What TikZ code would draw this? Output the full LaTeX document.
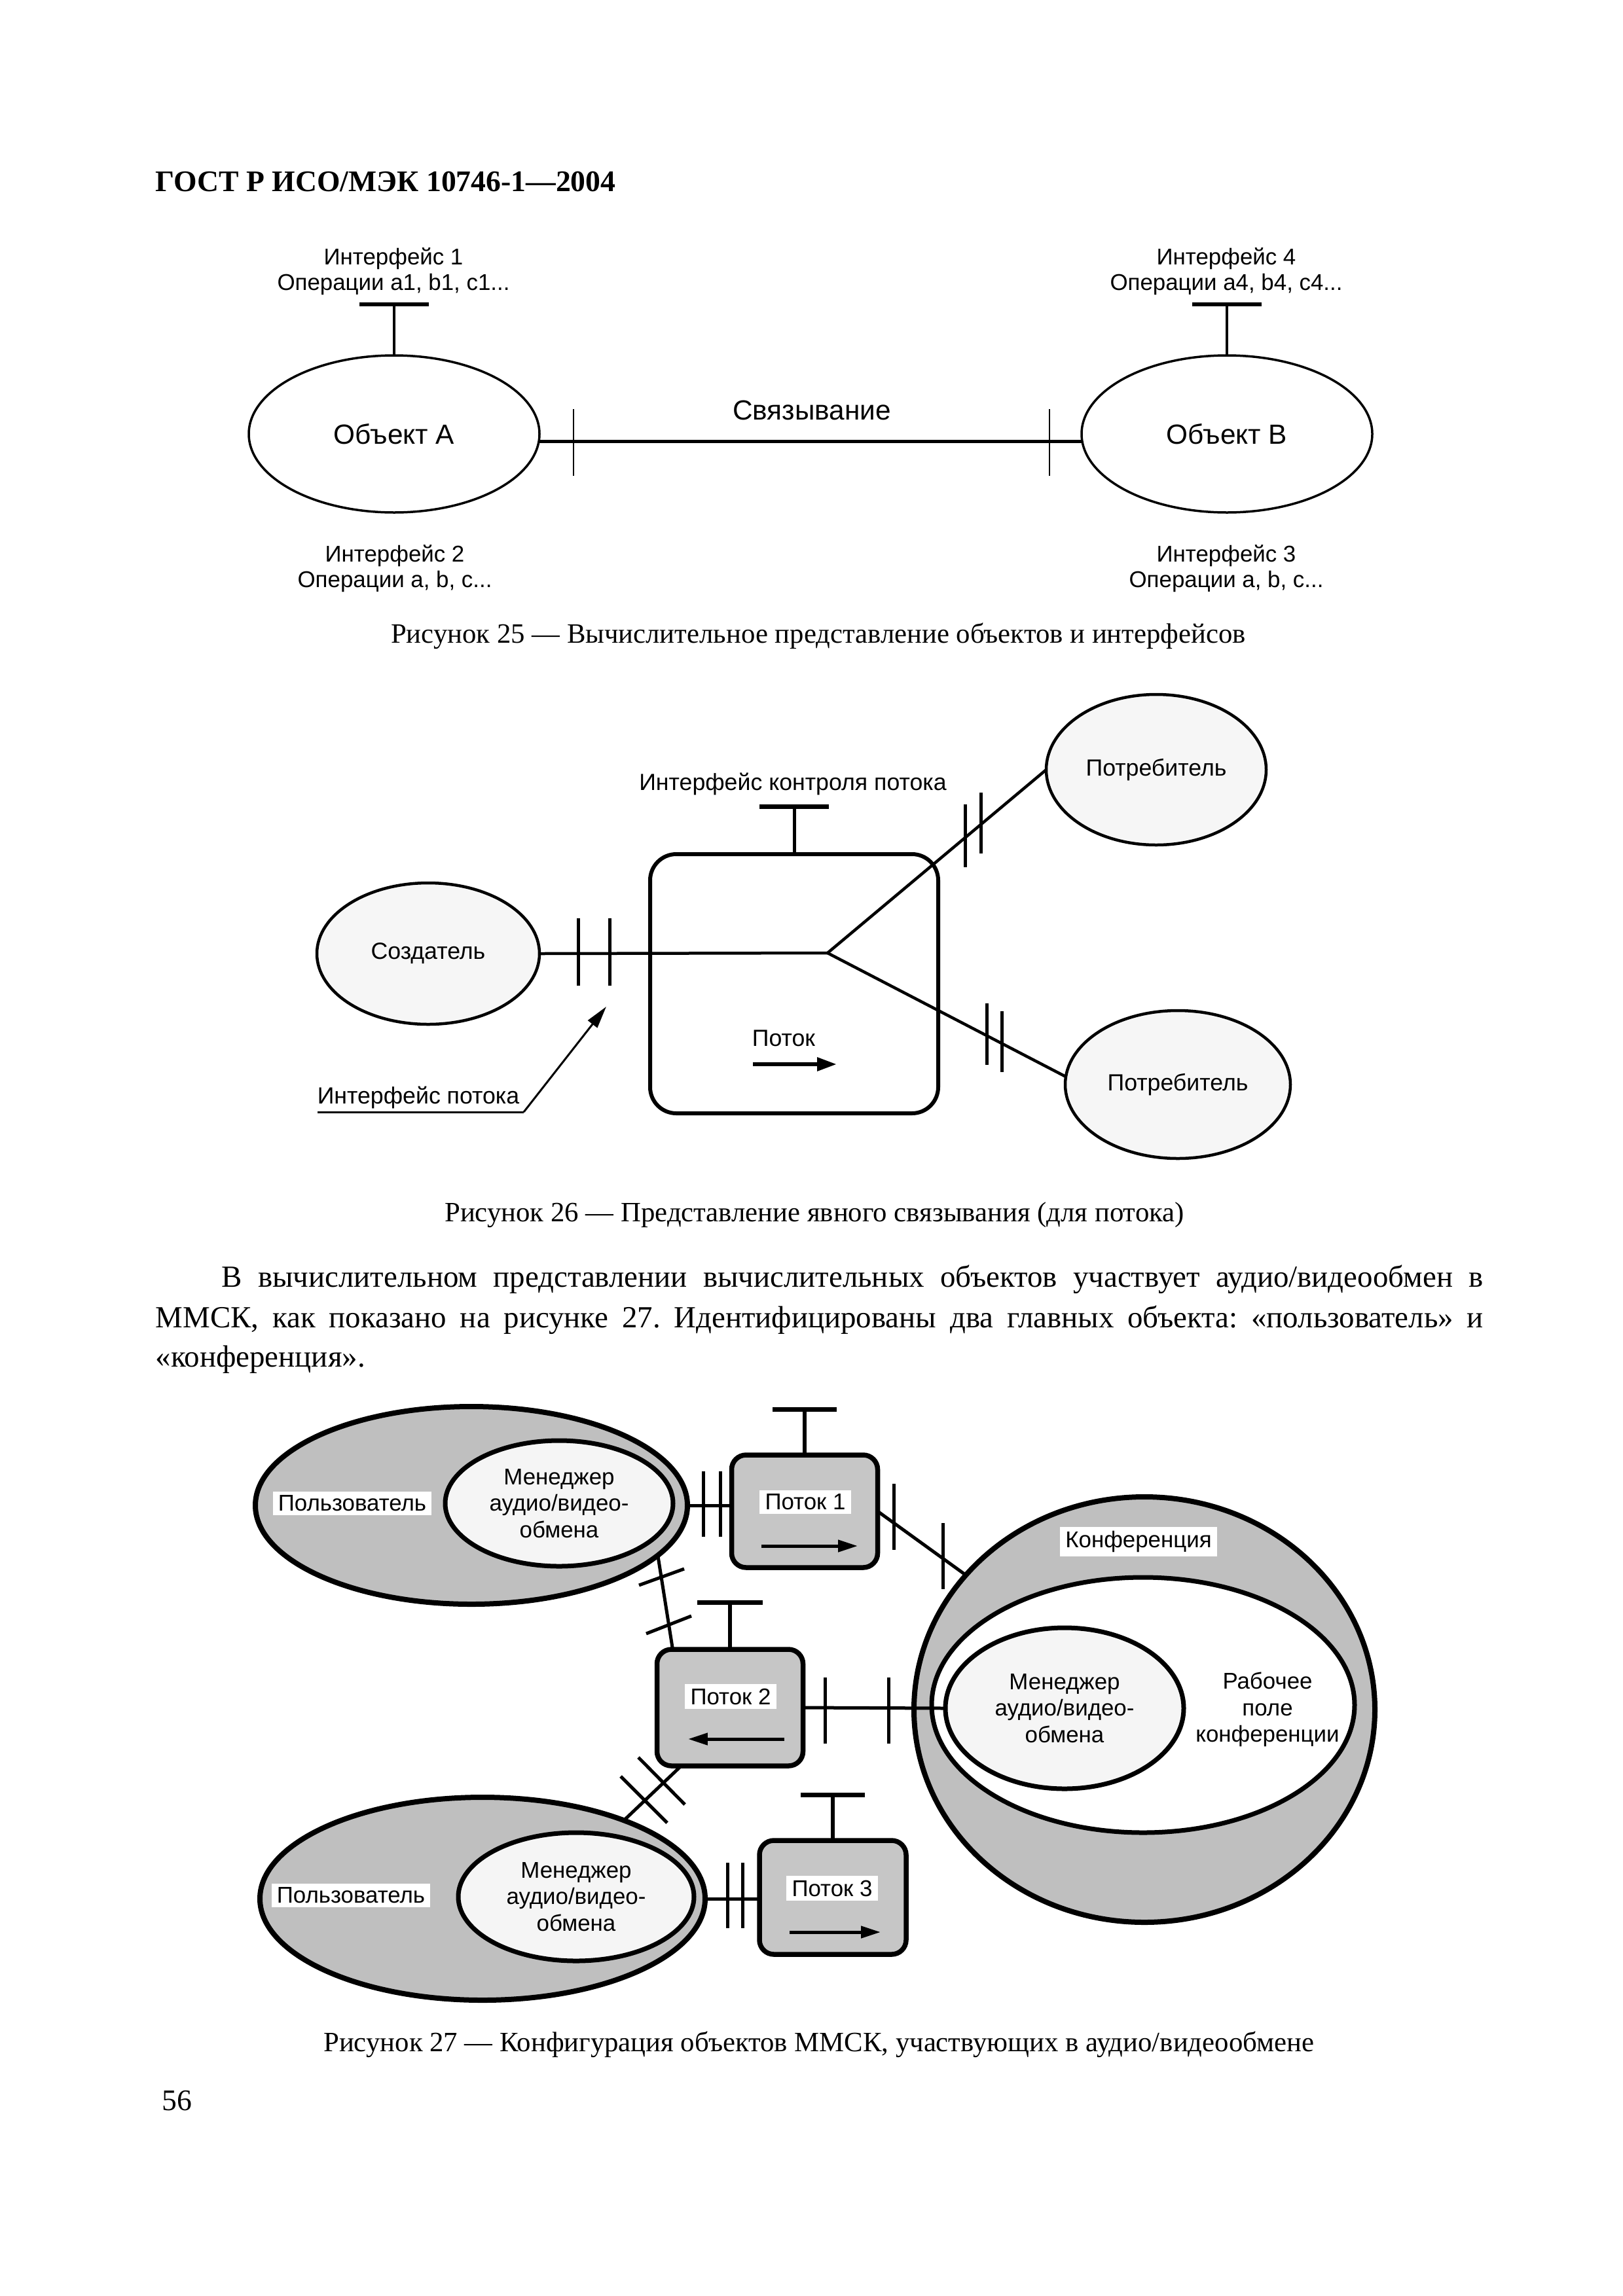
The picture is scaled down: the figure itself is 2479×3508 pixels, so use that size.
\documentclass[tikz,border=0pt]{standalone}
\usepackage{fontspec}
\setmainfont{Liberation Serif}
\newfontfamily\arialf{Liberation Sans}
\usetikzlibrary{shapes.geometric,arrows.meta,calc}
\newlength{\pxu}
\setlength{\pxu}{0.0846667mm}
\frenchspacing
\tikzset{
  ell/.style 2 args={ellipse, minimum width=#1\pxu, minimum height=#2\pxu, inner sep=0pt, outer sep=0pt, align=center},
  rbox/.style 2 args={rectangle, minimum width=#1\pxu, minimum height=#2\pxu, inner sep=0pt, outer sep=0pt},
  f25/.style={font=\arialf\fontsize{8.4}{9.8}\selectfont},
  f25big/.style={font=\arialf\fontsize{10.2}{12}\selectfont},
  f26/.style={font=\arialf\fontsize{8.6}{10}\selectfont},
  f27/.style={font=\arialf\fontsize{8.4}{9.7}\selectfont},
  capf/.style={font=\fontsize{10.3}{12}\selectfont},
  bodyf/.style={font=\fontsize{11.3}{15}\selectfont},
  lab/.style={inner sep=0pt, align=center},
  wl/.style={fill=white, inner xsep=2pt, inner ysep=1.5pt, align=center, f27},
  % figure 25
  e25/.style={draw, line width=3.5\pxu, f25big},
  l25/.style={line width=4.5\pxu},
  bar25/.style={line width=6\pxu},
  stem25/.style={line width=4\pxu},
  tick25/.style={line width=2.5\pxu},
  % figure 26
  e26/.style={draw, fill=gray!7, line width=4.5\pxu, f26},
  box26/.style={draw, line width=6\pxu, rounded corners=40\pxu},
  l26/.style={line width=4.5\pxu},
  tick26/.style={line width=5\pxu},
  bar26/.style={line width=7\pxu},
  stem26/.style={line width=5\pxu},
  lead26/.style={line width=3\pxu},
  % figure 27
  eo27/.style={draw, fill=gray!50, line width=8\pxu},
  ew27/.style={draw, fill=white, line width=7\pxu},
  ei27/.style={draw, fill=gray!8, line width=7\pxu, f27},
  box27/.style={draw, fill=gray!45, line width=7.5\pxu, rounded corners=22\pxu},
  l27/.style={line width=5\pxu},
  tick27/.style={line width=5\pxu},
  bar27/.style={line width=7\pxu},
  stem27/.style={line width=6\pxu},
  arr27/.style={line width=5\pxu, -{Triangle[length=7.2pt, width=4.3pt]}},
}
\begin{document}
\begin{tikzpicture}[x=0.0846667mm, y=-0.0846667mm]
\useasboundingbox (0,0) rectangle (2479,3508);
\fill[white] (0,0) rectangle (2479,3508);

% header
\node[anchor=base west, inner sep=0pt, font=\bfseries\fontsize{11}{13}\selectfont] (hdr) at (237,292) {ГОСТ Р ИСО/МЭК 10746-1—2004};

% ================= Figure 25 =================
\node[e25, ell={444}{240}] (oa) at (602,663) {Объект А};
\node[e25, ell={444}{240}] (ob) at (1874,663) {Объект В};
\draw[l25] (oa.-3) -- (ob.183);
\draw[tick25] (876,625) -- (876,727);
\draw[tick25] (1603,625) -- (1603,727);
\node[lab, f25big, anchor=base] (bind) at (1240,641) {Связывание};
\draw[stem25] (oa.north) -- ++(0,-78) coordinate (ta);
\draw[bar25] ($(ta)+(-53,0)$) -- ($(ta)+(53,0)$);
\draw[stem25] (ob.north) -- ++(0,-78) coordinate (tb);
\draw[bar25] ($(tb)+(-53,0)$) -- ($(tb)+(53,0)$);
\node[lab, f25, anchor=base] (i1) at (601,404) {Интерфейс 1};
\node[lab, f25, anchor=base] (op1) at (601,443) {Операции a1, b1, c1...};
\node[lab, f25, anchor=base] (i4) at (1873,404) {Интерфейс 4};
\node[lab, f25, anchor=base] (op4) at (1873,443) {Операции a4, b4, c4...};
\node[lab, f25, anchor=base] (i2) at (603,858) {Интерфейс 2};
\node[lab, f25, anchor=base] (op2) at (603,897) {Операции a, b, c...};
\node[lab, f25, anchor=base] (i3) at (1873,858) {Интерфейс 3};
\node[lab, f25, anchor=base] (op3) at (1873,897) {Операции a, b, c...};
\node[lab, capf, anchor=base] (cap25) at (1250,982) {Рисунок 25 — Вычислительное представление объектов и интерфейсов};

% ================= Figure 26 =================
\node[box26, rbox={440}{396}] (fb) at (1213,1503) {};
\node[e26, ell={340}{216}] (cr) at (654,1457) {Создатель};
\node[e26, ell={336}{230}] (p1) at (1766,1176) {Потребитель};
\node[e26, ell={344}{226}] (p2) at (1799,1657) {Потребитель};
\coordinate (jn) at (1264,1456);
\draw[l26] (cr.east) -- (jn);
\draw[l26] (jn) -- (p1.west);
\draw[l26] (jn) -- (p2.176);
\draw[tick26] (883,1403) -- (883,1506);
\draw[tick26] (931,1403) -- (931,1506);
\draw[tick26] (1474,1229) -- (1474,1325);
\draw[tick26] (1498,1211) -- (1498,1304);
\draw[tick26] (1507,1533) -- (1507,1627);
\draw[tick26] (1530,1545) -- (1530,1638);
\draw[stem26] (fb.north) -- ++(0,-73) coordinate (tf);
\draw[bar26] ($(tf)+(-53,0)$) -- ($(tf)+(53,0)$);
\node[lab, f26, anchor=base] (ifc) at (1211,1207) {Интерфейс контроля потока};
\node[lab, f26] (fl) at (1197,1586) {Поток};
\coordinate (fa1) at (1150,1626);
\coordinate (fa2) at (1278,1626);
\draw[line width=6\pxu, -{Triangle[length=7.2pt, width=4.8pt]}] (fa1) -- (fa2);
\node[lab, f26, anchor=base] (ifl) at (639,1686) {Интерфейс потока};
\coordinate (u1) at (485,1699);
\coordinate (u2) at (800,1699);
\coordinate (u3) at (926,1538);
\draw[lead26] (u1) -- (u2);
\draw[lead26, -{Triangle[length=8.2pt, width=4.3pt]}] (u2) -- (u3);
\node[lab, capf, anchor=base] (cap26) at (1244,1866) {Рисунок 26 — Представление явного связывания (для потока)};

% ================= paragraph =================
\node[lab, bodyf, anchor=base west] (par1) at (338,1966) {\makebox[1927\pxu][s]{В вычислительном представлении вычислительных объектов участвует аудио/видеообмен в}};
\node[lab, bodyf, anchor=base west] (par2) at (237,2028) {\makebox[2028\pxu][s]{ММСК, как показано на рисунке 27. Идентифицированы два главных объекта: «пользователь» и}};
\node[lab, bodyf, anchor=base west] (par3) at (237,2088) {«конференция».};

% ================= Figure 27 =================
\node[eo27, ell={660}{302}] (us1) at (720,2300) {};
\node[ei27, ell={348}{192}] (mg1) at (854,2297) {Менеджер\\аудио/видео-\\обмена};
\node[wl] (ul1) at (538,2297) {Пользователь};

\node[eo27, ell={680}{310}] (us2) at (737,2901) {};
\node[ei27, ell={360}{196}] (mg2) at (880,2898) {Менеджер\\аудио/видео-\\обмена};
\node[wl] (ul2) at (536,2896) {Пользователь};

\node[eo27, ell={704}{650}] (cf) at (1748,2612) {};
\node[ew27, ell={646}{390}] (cw) at (1746,2605) {};
\node[ei27, ell={364}{246}] (cm) at (1626,2610) {Менеджер\\аудио/видео-\\обмена};
\node[lab, f27] (wsp) at (1936,2612) {Рабочее\\поле\\конференции};
\node[wl] (cfl) at (1739,2355) {Конференция};

\node[box27, rbox={223}{172}] (f1) at (1229,2309) {};
\node[box27, rbox={223}{178}] (f2) at (1115,2609) {};
\node[box27, rbox={224}{174}] (f3) at (1272,2899) {};
\node[wl] (f1l) at (1230,2295) {Поток 1};
\node[wl] (f2l) at (1116,2592) {Поток 2};
\node[wl] (f3l) at (1271,2885) {Поток 3};
\coordinate (a1s) at (1163,2362);
\coordinate (a1e) at (1310,2362);
\coordinate (a2s) at (1198,2657);
\coordinate (a2e) at (1051,2657);
\coordinate (a3s) at (1206,2952);
\coordinate (a3e) at (1345,2952);
\draw[arr27] (a1s) -- (a1e);
\draw[arr27] (a2s) -- (a2e);
\draw[arr27] (a3s) -- (a3e);

\draw[stem27] (f1.north) -- ++(0,-70) coordinate (tf1);
\draw[bar27] ($(tf1)+(-49,0)$) -- ($(tf1)+(49,0)$);
\draw[stem27] (f2.north) -- ++(0,-72) coordinate (tf2);
\draw[bar27] ($(tf2)+(-50,0)$) -- ($(tf2)+(50,0)$);
\draw[stem27] (f3.north) -- ++(0,-70) coordinate (tf3);
\draw[bar27] ($(tf3)+(-49,0)$) -- ($(tf3)+(49,0)$);

% connectors
\draw[l27] (us1.east) -- (us1.east -| f1.west);
\draw[l27] (f1.east) -- (cf.143);
\draw[l27] ($(f2.north west)+(24,0)$) -- (us1.-15.3);
\draw[l27] ($(f2.south west)+(37,0)$) -- (us2.29.4);
\draw[l27] (f2.east) -- (cm.west);
\draw[l27] (us2.east) -- (us2.east -| f3.west);

% ticks
\draw[tick27] (1074,2248) -- (1074,2348);
\draw[tick27] (1100,2248) -- (1100,2348);
\draw[tick27] (1365,2267) -- (1365,2368);
\draw[tick27] (1440,2327) -- (1440,2428);
\draw[tick27] (976,2422) -- (1045,2397);
\draw[tick27] (987,2496) -- (1056,2469);
\draw[tick27] (975,2685) -- (1046,2757);
\draw[tick27] (948,2714) -- (1019,2785);
\draw[tick27] (1260,2563) -- (1260,2664);
\draw[tick27] (1357,2563) -- (1357,2664);
\draw[tick27] (1111,2846) -- (1111,2946);
\draw[tick27] (1134,2846) -- (1134,2946);

\node[lab, capf, anchor=base] (cap27) at (1251,3134) {Рисунок 27 — Конфигурация объектов ММСК, участвующих в аудио/видеообмене};
\node[lab, font=\fontsize{11}{13}\selectfont, anchor=base west] (pg) at (247,3224) {56};
\end{tikzpicture}
\end{document}
